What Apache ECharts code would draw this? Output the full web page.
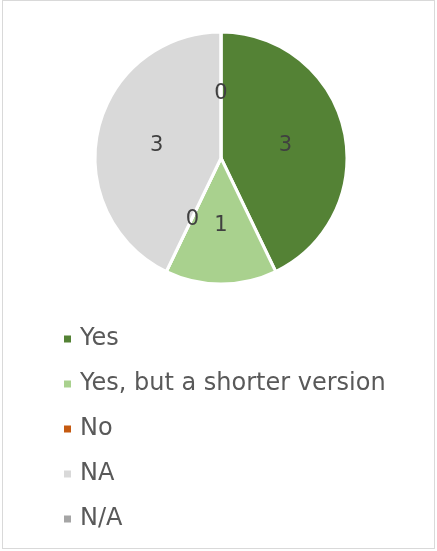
<!DOCTYPE html>
<html><head><meta charset="utf-8">
<script src="https://cdn.jsdelivr.net/npm/echarts@6/dist/echarts.min.js"></script>
<style>
html,body{margin:0;padding:0;background:#fff;}
#c{position:absolute;left:2px;top:0;width:433px;height:549px;border:1px solid #d9d9d9;box-sizing:border-box;}
</style></head>
<body><div id="c"></div>
<script>
const categories = ["Yes", "Yes, but a shorter version", "No", "NA", "N/A"];
const values = [3, 1, 0, 3, 0];
const colors = ["#548235", "#A9D18E", "#C55A11", "#D9D9D9", "#A5A5A5"];

const chart = echarts.init(document.getElementById('c'));
chart.setOption({
  animation: false,
  legend: {
    orient: 'vertical',
    left: 59,
    top: 324,
    padding: 0,
    icon: 'rect',
    itemWidth: 9,
    itemHeight: 9,
    itemGap: 17,
    textStyle: { fontFamily: 'DejaVu Sans', fontSize: 24, color: '#595959', lineHeight: 28, padding: [0,0,0,3] },
    data: categories
  },
  series: [{
    type: 'pie',
    center: [218, 157],
    radius: 126,
    startAngle: 90,
    clockwise: true,
    minAngle: 0,
    stillShowZeroSum: true,
    avoidLabelOverlap: false,
    itemStyle: { borderColor: '#fff', borderWidth: 3 },
    label: { show: true, position: 'inside', formatter: '{c}', fontFamily: 'DejaVu Sans', fontSize: 21, color: '#404040', offset: [0, 2] },
    labelLine: { show: false },
    emphasis: { disabled: true },
    data: categories.map((n, i) => ({ name: n, value: values[i], itemStyle: { color: colors[i] } }))
  }]
});
</script></body></html>
